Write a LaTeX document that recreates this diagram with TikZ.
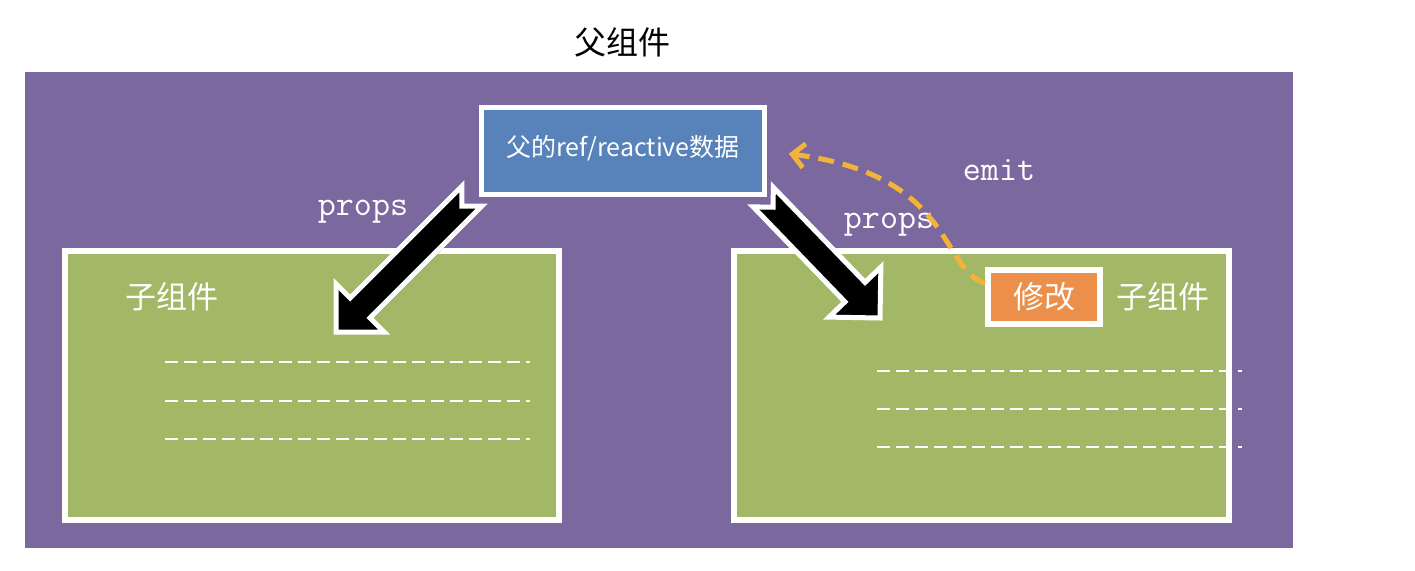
\documentclass[tikz,border=0pt]{standalone}
\usepackage{fontspec}
\setmainfont{Noto Sans CJK SC}
\newfontfamily\cjk{Noto Sans CJK SC}
\usetikzlibrary{arrows.meta,shadows,calc}

\definecolor{bgpurple}{RGB}{123,104,159}
\definecolor{boxgreen}{RGB}{163,184,102}
\definecolor{boxblue}{RGB}{88,130,186}
\definecolor{boxorange}{RGB}{235,143,75}
\definecolor{emitgold}{RGB}{243,179,56}

\tikzset{
  softshadow/.style={drop shadow={opacity=0.35,shadow xshift=2pt,shadow yshift=-2pt}},
  panel/.style={draw=white,line width=6pt,fill=boxgreen,inner sep=0pt,softshadow},
  databox/.style={draw=white,line width=5pt,fill=boxblue,inner sep=0pt,softshadow},
  editbox/.style={draw=white,line width=6pt,fill=boxorange,inner sep=0pt,softshadow,
    text=white,font=\cjk\fontsize{31}{34}\selectfont},
  cjklabel/.style={text=white,font=\cjk\fontsize{31}{34}\selectfont,inner sep=0pt},
  datalabel/.style={text=white,font=\cjk\fontsize{25}{28}\selectfont,inner sep=0pt},
  codelabel/.style={text=white,font=\ttfamily\fontsize{35}{38}\selectfont,inner sep=0pt},
  placeholder/.style={draw=white,line width=2.8pt,dash pattern=on 13pt off 6pt},
  fatarrow/.style={fill=black,draw=white,line width=5pt,line join=miter,softshadow},
  emitline/.style={draw=emitgold,line width=5pt,dash pattern=on 16pt off 9pt,
    -{Straight Barb[length=12pt,width=24pt,line width=5pt]}},
}

\begin{document}
\begin{tikzpicture}[x=1pt,y=-1pt]
  \useasboundingbox (0,0) rectangle (1415,570);

  % caption above the frame
  \node[font=\cjk\fontsize{32}{36}\selectfont,inner sep=0pt] (title) at (622,42) {父组件};

  % parent component frame
  \fill[bgpurple] (25,72) rectangle (1293,548);

  % shared state in the parent
  \node[databox,minimum width=283pt,minimum height=87pt] (parent) at (623,151) {};
  \node[datalabel] (parentname) at (623,148) {父的ref/reactive数据};

  % left child component
  \node[panel,minimum width=494pt,minimum height=269pt] (left) at (312,385.5) {};
  \node[cjklabel] (leftname) at (172,297) {子组件};
  \foreach \yy in {362,401,439}
    \draw[placeholder] (165,\yy) -- (530,\yy);

  % right child component
  \node[panel,minimum width=495pt,minimum height=269pt] (right) at (981.5,385.5) {};
  \node[cjklabel] (rightname) at (1163,297) {子组件};
  \foreach \yy in {371,409,447}
    \draw[placeholder] (877,\yy) -- (1242,\yy);

  % action inside the right child
  \node[editbox,minimum width=112pt,minimum height=54pt] (edit) at (1044,297) {修改};

  % props flowing down into the children
  \coordinate (ltip) at (336,332);
  \coordinate (rtip) at (880,318);
  \begin{scope}[shift={(ltip)},rotate=45]
    \path[fatarrow] (0,0) -- (34,34) -- (34,14) -- (192,14) -- (178,0)
      -- (192,-14) -- (34,-14) -- (34,-34) -- cycle;
  \end{scope}
  \begin{scope}[shift={(rtip)},rotate=134]
    \path[fatarrow] (0,0) -- (36,36) -- (36,14) -- (168,14) -- (154,0)
      -- (168,-14) -- (36,-14) -- (36,-36) -- cycle;
  \end{scope}
  \node[codelabel] (lprops) at (363,212) {props};
  \node[codelabel] (rprops) at (889,225) {props};

  % child notifies the parent
  \draw[emitline,shorten >=22pt] ($(edit.west)+(0,-14)$)
    .. controls (940,270) and (955,175) .. (parent.east);
  \node[codelabel] (emitlabel) at (999,170) {emit};
\end{tikzpicture}
\end{document}
